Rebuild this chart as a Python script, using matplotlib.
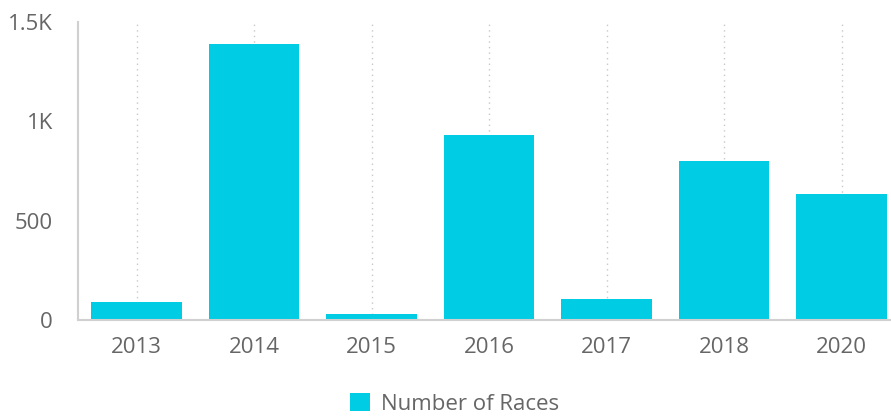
import matplotlib.pyplot as plt
from matplotlib.ticker import FuncFormatter

years = ["2013", "2014", "2015", "2016", "2017", "2018", "2020"]
races = [90, 1390, 32, 930, 109, 800, 637]

bar_color = "#00CDE3"
text_color = "#666666"
axis_color = "#D0D0D0"

plt.rcParams["font.family"] = ["Open Sans", "DejaVu Sans"]

fig = plt.figure(figsize=(8.91, 4.18), dpi=100)
ax = fig.add_axes([0.0875, 0.234, 0.923, 0.713])

x = range(len(years))
ax.bar(x, races, width=0.77, color=bar_color, label="Number of Races", zorder=2)

ax.set_xlim(-0.5, len(years) - 0.5)
ax.set_ylim(0, 1500)
ax.set_xticks(list(x))
ax.set_xticklabels(years)
ax.set_yticks([0, 500, 1000, 1500])


def fmt(v, pos):
    if v >= 1000:
        s = f"{v / 1000:.1f}".rstrip("0").rstrip(".")
        return s + "K"
    return f"{int(v)}"


ax.yaxis.set_major_formatter(FuncFormatter(fmt))
ax.tick_params(axis="both", length=0, labelsize=16, colors=text_color)
ax.tick_params(axis="x", pad=12)
ax.tick_params(axis="y", pad=18)

ax.xaxis.grid(True, linestyle=(0, (1, 3)), color="#C8C8C8", linewidth=1, zorder=0)
ax.yaxis.grid(False)

for side in ["top", "right"]:
    ax.spines[side].set_visible(False)
ax.spines["left"].set_color(axis_color)
ax.spines["bottom"].set_color(axis_color)
ax.spines["left"].set_linewidth(1.5)
ax.spines["bottom"].set_linewidth(1.5)

leg = fig.legend(loc="lower center", bbox_to_anchor=(0.51, -0.04), frameon=False,
                 fontsize=16, handlelength=0.9, handleheight=0.9, handletextpad=0.5)
for t in leg.get_texts():
    t.set_color(text_color)

fig.savefig("out.png", dpi=100)
